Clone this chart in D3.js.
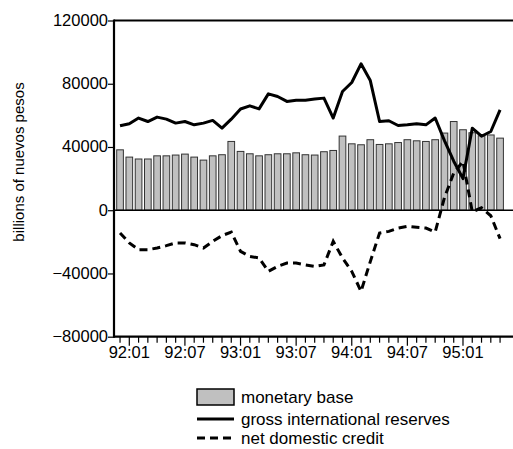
<!DOCTYPE html>
<html>
<head>
<meta charset="utf-8">
<script src="https://cdn.jsdelivr.net/npm/d3@7"></script>
<style>
  body { margin: 0; background: #fff; }
  text { font-family: "Liberation Sans", Arial, sans-serif; fill: #000; }
</style>
</head>
<body>
<div id="mainChart"></div>
<script>
// Monthly data, 91:12 .. 95:05 (billions of nuevos pesos)
const months = [
  "91:12", "92:01", "92:02", "92:03", "92:04", "92:05", "92:06", "92:07", "92:08", "92:09", "92:10", "92:11",
  "92:12", "93:01", "93:02", "93:03", "93:04", "93:05", "93:06", "93:07", "93:08", "93:09", "93:10", "93:11",
  "93:12", "94:01", "94:02", "94:03", "94:04", "94:05", "94:06", "94:07", "94:08", "94:09", "94:10", "94:11",
  "94:12", "95:01", "95:02", "95:03", "95:04", "95:05"
]
const monetaryBase = [
  38200, 33600, 32400, 32400, 34400, 34400, 34900, 35500, 33600, 31700, 34400, 35100,
  43500, 37200, 35700, 34400, 35100, 35700, 35700, 36300, 35100, 34900, 37000, 37800,
  46900, 42000, 41400, 44600, 41600, 42000, 42800, 44600, 43900, 43500, 44600, 48800,
  56100, 50900, 49000, 47100, 47600, 45600
]
const grossReserves = [
  53400, 54700, 58300, 56100, 58900, 57600, 55100, 56100, 54000, 55100, 56800, 51900,
  57600, 64000, 66000, 64100, 73600, 71900, 68800, 69600, 69600, 70300, 70900, 58300,
  75100, 80800, 92600, 82000, 56100, 56600, 53600, 54000, 54700, 54000, 58300, 44000,
  31000, 20000, 51900, 46800, 49800, 63500
]
const netDomesticCredit = [
  -14400, -20700, -25000, -25000, -23900, -22400, -20700, -20700, -21800, -23900, -19700, -16100,
  -13800, -26000, -29200, -30200, -38700, -35500, -33400, -33400, -34600, -35500, -34600, -19700,
  -30200, -38700, -51300, -32500, -14400, -13400, -11300, -10200, -10800, -11300, -13800, 8000,
  23500, 30900, -1000, 1500, -3500, -18000
]
const yTicks = [-80000, -40000, 0, 40000, 80000, 120000]
const xTickLabels = ["92:01", "92:07", "93:01", "93:07", "94:01", "94:07", "95:01"]
const legendLabels = ["monetary base", "gross international reserves", "net domestic credit"]

const W = 513, H = 449
const plotLeft = 114, plotTop = 20.5, plotBottom = 336.7, rightEdge = 513

let svg = d3.select("#mainChart").append("svg")
  .attr("width", W)
  .attr("height", H)

let x = d3.scaleBand()
  .domain(months)
  .range([115.4, 504.7])
  .paddingInner(0.28)
  .paddingOuter(0.14)

let y = d3.scaleLinear()
  .domain([-80000, 120000])
  .range([plotBottom, plotTop])

let cx = function (m) { return x(m) + x.bandwidth() / 2 }

// Bars
svg.append("g").selectAll("rect").data(monetaryBase)
  .join("rect")
  .attr("x", function (d, i) { return x(months[i]) })
  .attr("y", function (d) { return y(d) })
  .attr("width", x.bandwidth())
  .attr("height", function (d) { return y(0) - y(d) })
  .attr("fill", "#c0c0c0")
  .attr("stroke", "#333")
  .attr("stroke-width", 1)

// Zero line
svg.append("line")
  .attr("x1", plotLeft).attr("x2", rightEdge)
  .attr("y1", y(0)).attr("y2", y(0))
  .attr("stroke", "#000").attr("stroke-width", 1.5)

let line = d3.line()
  .x(function (d, i) { return cx(months[i]) })
  .y(function (d) { return y(d) })

svg.append("path")
  .datum(grossReserves)
  .attr("d", line)
  .attr("fill", "none")
  .attr("stroke", "#000")
  .attr("stroke-width", 3)
  .attr("stroke-linejoin", "round")

svg.append("path")
  .datum(netDomesticCredit)
  .attr("d", line)
  .attr("fill", "none")
  .attr("stroke", "#000")
  .attr("stroke-width", 3)
  .attr("stroke-dasharray", "8,5")

// Y axis
let yAxis = d3.axisLeft(y).tickValues(yTicks).tickSize(6).tickPadding(0).tickFormat(d3.format("d"))
let gy = svg.append("g")
  .attr("transform", "translate(" + plotLeft + ",0)")
  .call(yAxis)
gy.select(".domain").remove()
gy.selectAll(".tick line").attr("stroke-width", 1.2)
gy.selectAll(".tick text").style("font-size", "16.5px").attr("dy", "0.3em")

// X axis
let xAxis = d3.axisBottom(x)
  .tickSize(6)
  .tickFormat(function (d) { return xTickLabels.indexOf(d) >= 0 ? d : "" })
let gx = svg.append("g")
  .attr("transform", "translate(0," + plotBottom + ")")
  .call(xAxis)
gx.select(".domain").remove()
gx.selectAll(".tick line").attr("stroke-width", 1.2)
gx.selectAll(".tick").filter(function (d) { return xTickLabels.indexOf(d) >= 0 })
  .select("line").attr("y2", 9)
gx.selectAll(".tick text").style("font-size", "16.5px").attr("y", 10)

// Frame lines
svg.append("line").attr("x1", plotLeft).attr("x2", plotLeft).attr("y1", plotTop - 1).attr("y2", plotBottom + 1)
  .attr("stroke", "#000").attr("stroke-width", 2.2)
svg.append("line").attr("x1", plotLeft).attr("x2", rightEdge).attr("y1", plotTop).attr("y2", plotTop)
  .attr("stroke", "#000").attr("stroke-width", 2.2)
svg.append("line").attr("x1", plotLeft).attr("x2", rightEdge).attr("y1", plotBottom).attr("y2", plotBottom)
  .attr("stroke", "#000").attr("stroke-width", 2.2)

// Y title
svg.append("text")
  .attr("transform", "translate(24,162) rotate(-90)")
  .attr("text-anchor", "middle")
  .style("font-size", "15px")
  .text("billions of nuevos pesos")

// Legend
let lg = svg.append("g").attr("transform", "translate(197,0)")
lg.append("rect").attr("x", 0).attr("y", 389).attr("width", 37).attr("height", 16)
  .attr("fill", "#c0c0c0").attr("stroke", "#000").attr("stroke-width", 1.5)
lg.append("line").attr("x1", 0).attr("x2", 37).attr("y1", 419).attr("y2", 419)
  .attr("stroke", "#000").attr("stroke-width", 3)
lg.append("line").attr("x1", 0).attr("x2", 37).attr("y1", 438).attr("y2", 438)
  .attr("stroke", "#000").attr("stroke-width", 3).attr("stroke-dasharray", "8,5")
lg.selectAll("text.lbl").data(legendLabels)
  .join("text")
  .attr("class", "lbl")
  .attr("x", 44)
  .attr("y", function (d, i) { return [397, 419, 438][i] })
  .attr("dy", "0.35em")
  .style("font-size", "17px")
  .text(function (d) { return d })
</script>
</body>
</html>
